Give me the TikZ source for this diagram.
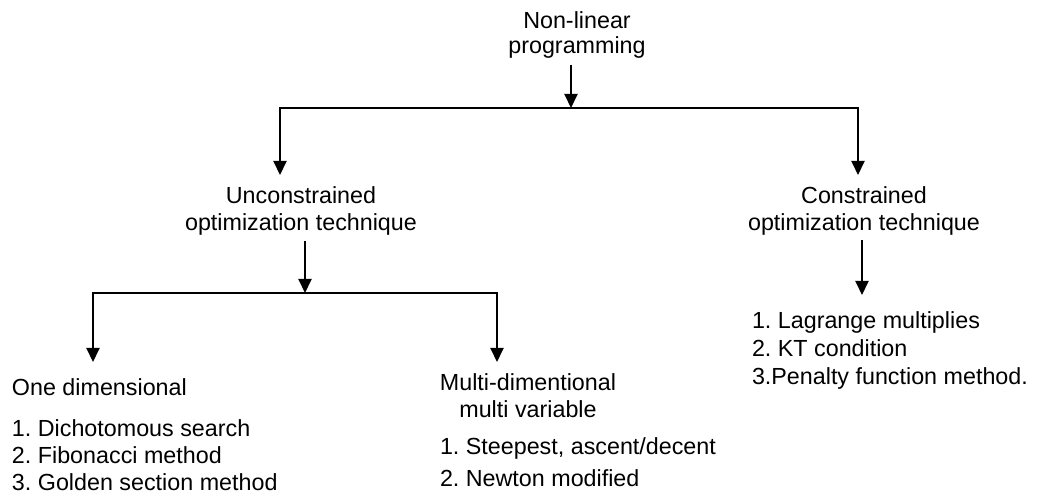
\documentclass[tikz,border=0pt]{standalone}
\usepackage{fontspec}
\setmainfont{Liberation Sans}
\usetikzlibrary{arrows.meta}
\begin{document}
\frenchspacing
\begin{tikzpicture}[x=1pt,y=-1pt,
  txt/.style={inner sep=0pt, outer sep=0pt, font=\fontsize{23.3}{27}\selectfont},
  conn/.style={line width=2pt, line join=miter, -{Triangle[length=14pt,width=13pt]}},
  conn2/.style={line width=2pt, line join=miter, {Triangle[length=14pt,width=13pt]}-{Triangle[length=14pt,width=13pt]}}]
\useasboundingbox (0,0) rectangle (1037,494);
% text nodes
\node[txt, anchor=north, align=center, font=\fontsize{23.3}{25}\selectfont] (nlp) at (577,11.3) {Non-linear\\programming};
\node[txt, anchor=north, align=center] (unc) at (301,186.3) {Unconstrained\\optimization technique};
\node[txt, anchor=north, align=center] (con) at (864,186.3) {Constrained\\optimization technique};
\node[txt, anchor=north west, align=left] (one) at (12,378.3) {One dimensional};
\node[txt, anchor=north west, align=left] (onelist) at (12,419.3) {1. Dichotomous search\\2. Fibonacci method\\3. Golden section method};
\node[txt, anchor=north, align=center] (multi) at (528,373.3) {Multi-dimentional\\multi variable};
\node[txt, anchor=north west, align=left, font=\fontsize{23.3}{32}\selectfont] (multilist) at (440,437.3) {1. Steepest, ascent/decent\\2. Newton modified};
\node[txt, anchor=north west, align=left, font=\fontsize{23.3}{28}\selectfont] (conlist) at (752,311.3) {1. Lagrange multiplies\\2. KT condition\\3.Penalty function method.};
% junction and tip coordinates
\coordinate (s1) at (571,65);
\coordinate (j1) at (571,108);
\coordinate (tu) at (280,175);
\coordinate (tc) at (858,175);
\coordinate (s2) at (305,241);
\coordinate (j2) at (305,293);
\coordinate (to) at (93,362);
\coordinate (tm) at (497,362);
\coordinate (s3) at (862,240);
\coordinate (t3) at (862,295);
% connectors
\draw[conn] (s1) -- (j1);
\draw[conn2] (tu) |- (j1) -| (tc);
\draw[conn] (s2) -- (j2);
\draw[conn2] (to) |- (j2) -| (tm);
\draw[conn] (s3) -- (t3);
\end{tikzpicture}
\end{document}
